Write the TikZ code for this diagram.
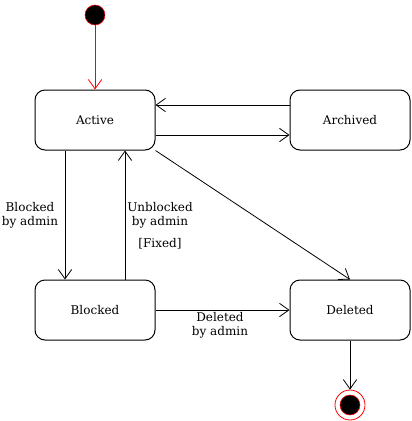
\documentclass[tikz,border=0pt]{standalone}
\usepackage{fontspec}
\setmainfont{DejaVu Serif}
\usetikzlibrary{arrows.meta,positioning,calc}

\begin{document}
\begin{tikzpicture}[
  x=0.75pt, y=-0.75pt,
  font=\fontsize{9}{10.5}\selectfont,
  state/.style={draw, rounded corners=7.5pt, minimum width=90pt, minimum height=45pt, line width=0.75pt},
  trans/.style={-{Straight Barb[length=7pt,width=10pt]}, line width=0.6pt},
  lbl/.style={align=center, inner sep=0pt}
]
\useasboundingbox (0,0) rectangle (411,421);
\node[circle, fill=black, draw=red, minimum size=15pt, inner sep=0pt] (init) at (95,15) {};
\node[state] (active) at (95,120) {Active};
\node[state] (archived) at (350,120) {Archived};
\node[state] (blocked) at (95,310) {Blocked};
\node[state] (deleted) at (350,310) {Deleted};
\node[circle, draw=red, minimum size=22.5pt, inner sep=0pt, line width=0.6pt] (final) at (350,405) {};
\node[circle, fill=black, draw=red, line width=0.4pt, minimum size=15pt, inner sep=0pt] (finaldot) at (final) {};
\draw[trans, draw=red] (init) -- (active);
\draw[trans] (archived.west |- 0,105) -- (active.east |- 0,105);
\draw[trans] (active.east |- 0,135) -- (archived.west |- 0,135);
\draw[trans] (active.south -| 65,0) -- (blocked.north -| 65,0);
\draw[trans] (blocked.north -| 125,0) -- (active.south -| 125,0);
\draw[trans] (active.south east) -- (deleted.north);
\draw[trans] (blocked) -- (deleted);
\draw[trans] (deleted) -- (final);
\node[lbl] (lblock) at (30,215) {Blocked\\by admin};
\node[lbl] (lunblock) at (160,215) {Unblocked\\by admin};
\node[lbl] (lfixed) at (160,244) {[Fixed]};
\node[lbl] (ldelete) at (220,325) {Deleted\\by admin};
\end{tikzpicture}
\end{document}
